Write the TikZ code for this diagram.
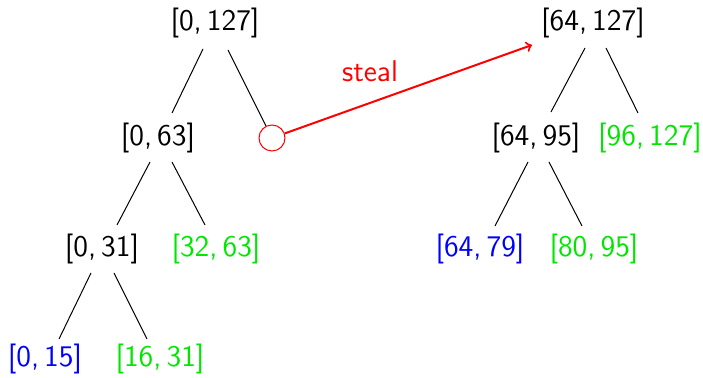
\documentclass[tikz,border=0pt]{standalone}
\usetikzlibrary{calc}
\definecolor{leafblue}{RGB}{0,0,255}
\definecolor{leafgreen}{RGB}{0,230,0}
\tikzset{
  iv/.style={font=\sffamily\fontsize{15}{18}\selectfont, inner sep=0pt},
  own/.style={iv, text=leafblue},
  done/.style={iv, text=leafgreen},
  edge/.style={line width=0.5pt, black},
  hole/.style={circle, draw=red, line width=0.5pt, minimum size=13pt, inner sep=0pt},
  stealarrow/.style={red, line width=1pt, ->}
}
\begin{document}
\begin{tikzpicture}[x=0.5pt, y=-0.5pt]
\useasboundingbox (0,0) rectangle (703,378);

% left tree (victim)
\node[iv]   (a)  at (215,23)  {[0,\,127]};
\node[iv]   (b)  at (158,138) {[0,\,63]};
\node[hole] (c)  at (272,138) {};
\node[iv]   (d)  at (102,249) {[0,\,31]};
\node[done] (e)  at (216,249) {[32,\,63]};
\node[own]  (f)  at (45,359)  {[0,\,15]};
\node[done] (g)  at (160,359) {[16,\,31]};

% right tree (thief)
\node[iv]   (r)  at (593,23)  {[64,\,127]};
\node[iv]   (s)  at (536,138) {[64,\,95]};
\node[done] (t)  at (650,138) {[96,\,127]};
\node[own]  (u)  at (480,249) {[64,\,79]};
\node[done] (v)  at (594,249) {[80,\,95]};

% tree edges
\draw[edge] ($(a)+(-12,26)$) -- ($(b)+(14,-25)$);
\draw[edge] ($(a)+(13,27)$)  -- (c);
\draw[edge] ($(b)+(-8,24)$)  -- ($(d)+(15,-24)$);
\draw[edge] ($(b)+(14,24)$)  -- ($(e)+(-11,-24)$);
\draw[edge] ($(d)+(-11,24)$) -- ($(f)+(14,-20)$);
\draw[edge] ($(d)+(12,24)$)  -- ($(g)+(-13,-20)$);

\draw[edge] ($(r)+(-8,25)$)  -- ($(s)+(15,-26)$);
\draw[edge] ($(r)+(13,25)$)  -- ($(t)+(-12,-25)$);
\draw[edge] ($(s)+(-8,24)$)  -- ($(u)+(15,-23)$);
\draw[edge] ($(s)+(13,24)$)  -- ($(v)+(-12,-23)$);

% steal arrow
\coordinate (tip) at ($(r)+(-61,22)$);
\draw[stealarrow] (c) -- (tip);
\node[iv, text=red] (lbl) at (370,71) {steal};
\end{tikzpicture}
\end{document}
